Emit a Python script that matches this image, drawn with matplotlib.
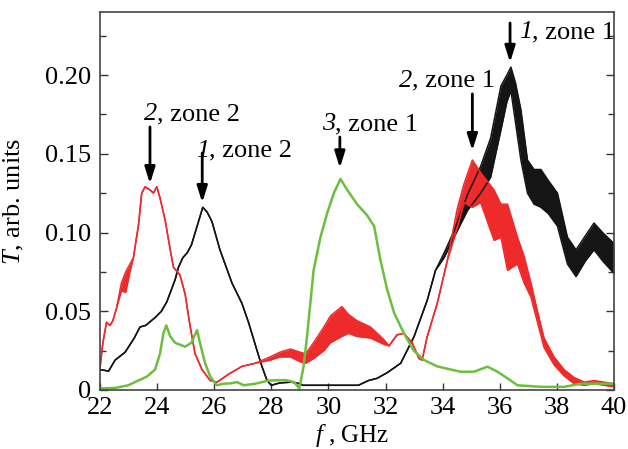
import numpy as np
import matplotlib
matplotlib.use('Agg')
import matplotlib.pyplot as plt
from matplotlib.ticker import MultipleLocator, FixedLocator, FixedFormatter

# Curve 1 (black): frequency, lower and upper edge of the rippled trace
black_f = [22.0, 22.3, 22.53, 22.88, 23.2, 23.4, 23.6, 23.93, 24.15, 24.34, 24.63, 24.75,
           24.9, 25.05, 25.2, 25.4, 25.6, 25.75, 25.92, 26.2, 26.62, 26.97, 27.2, 27.5,
           27.67, 27.85, 28.0, 28.3, 28.7, 29.0, 29.1, 31.05, 31.4, 31.7, 32.06, 32.53,
           33.0, 33.46, 33.75, 34.05, 34.4, 34.87, 35.33, 35.68, 36.04, 36.25, 36.39,
           36.55, 36.74, 36.97, 37.2, 37.44, 37.7, 38.02, 38.37, 38.67, 39.0, 39.3, 39.6, 40.0]
black_lo = [0.013, 0.012, 0.019, 0.024, 0.033, 0.040, 0.041, 0.046, 0.050, 0.056, 0.070, 0.078,
            0.084, 0.087, 0.092, 0.104, 0.116, 0.113, 0.107, 0.089, 0.068, 0.055, 0.043, 0.025,
            0.015, 0.006, 0.003, 0.0045, 0.005, 0.004, 0.003, 0.003, 0.006, 0.0074, 0.011, 0.017,
            0.034, 0.057, 0.076, 0.084, 0.097, 0.114, 0.125, 0.135, 0.165, 0.183, 0.190,
            0.170, 0.146, 0.125, 0.118, 0.116, 0.112, 0.104, 0.080, 0.072, 0.082, 0.089, 0.082, 0.074]
black_hi = [0.013, 0.012, 0.019, 0.024, 0.033, 0.040, 0.041, 0.046, 0.050, 0.056, 0.070, 0.078,
            0.084, 0.087, 0.092, 0.104, 0.116, 0.113, 0.107, 0.089, 0.068, 0.055, 0.043, 0.025,
            0.015, 0.006, 0.003, 0.0045, 0.005, 0.004, 0.003, 0.003, 0.006, 0.0074, 0.011, 0.017,
            0.034, 0.057, 0.076, 0.087, 0.101, 0.124, 0.142, 0.160, 0.193, 0.200, 0.205,
            0.195, 0.178, 0.146, 0.140, 0.140, 0.133, 0.125, 0.097, 0.089, 0.098, 0.106, 0.100, 0.093]

# Curve 2 (red)
red_f = [22.0, 22.1, 22.23, 22.35, 22.45, 22.58, 22.75, 22.9, 23.05, 23.17, 23.35, 23.46,
         23.58, 23.75, 23.87, 23.99, 24.1, 24.28, 24.46, 24.57, 24.8, 24.98, 25.16, 25.33,
         25.57, 25.86, 26.1, 26.5, 26.97, 27.44, 27.96, 28.3, 28.67, 29.0, 29.2, 29.48,
         29.84, 30.07, 30.47, 30.7, 31.0, 31.47, 31.94, 32.12, 32.4, 32.64, 32.93, 33.17,
         33.28, 33.46, 33.81, 34.16, 34.51, 34.75, 35.04, 35.33, 35.8, 36.04, 36.27, 36.62,
         36.85, 37.09, 37.32, 37.55, 37.9, 38.25, 38.6, 38.96, 39.3, 40.0]
red_lo = [0.014, 0.030, 0.043, 0.041, 0.044, 0.052, 0.063, 0.062, 0.075, 0.084, 0.105, 0.125,
          0.129, 0.127, 0.125, 0.129, 0.122, 0.108, 0.089, 0.078, 0.073, 0.061, 0.040, 0.023,
          0.013, 0.006, 0.005, 0.010, 0.015, 0.017, 0.019, 0.021, 0.021, 0.018, 0.017, 0.020,
          0.025, 0.030, 0.034, 0.036, 0.034, 0.033, 0.029, 0.028, 0.035, 0.036, 0.030, 0.020,
          0.019, 0.034, 0.055, 0.082, 0.103, 0.119, 0.116, 0.119, 0.095, 0.097, 0.076, 0.080,
          0.068, 0.059, 0.043, 0.027, 0.016, 0.009, 0.004, 0.003, 0.004, 0.002]
red_hi = [0.014, 0.030, 0.043, 0.041, 0.044, 0.052, 0.068, 0.075, 0.080, 0.084, 0.105, 0.125,
          0.129, 0.127, 0.125, 0.129, 0.122, 0.108, 0.089, 0.078, 0.073, 0.061, 0.040, 0.023,
          0.013, 0.006, 0.005, 0.010, 0.015, 0.017, 0.021, 0.024, 0.026, 0.024, 0.023, 0.030,
          0.040, 0.047, 0.053, 0.048, 0.044, 0.040, 0.032, 0.028, 0.035, 0.036, 0.030, 0.020,
          0.019, 0.034, 0.055, 0.082, 0.115, 0.131, 0.146, 0.138, 0.127, 0.118, 0.118, 0.097,
          0.085, 0.068, 0.050, 0.033, 0.021, 0.013, 0.008, 0.005, 0.006, 0.004]

# Curve 3 (green)
green_f = [22.0, 22.53, 22.99, 23.34, 23.64, 23.93, 24.1, 24.22, 24.32, 24.46, 24.63, 24.98,
           25.2, 25.4, 25.5, 25.68, 25.86, 26.09, 26.33, 26.56, 26.8, 27.03, 27.44, 27.9,
           28.5, 28.8, 28.98, 29.13, 29.25, 29.48, 29.72, 29.95, 30.19, 30.42, 30.66, 31.0,
           31.35, 31.6, 31.82, 32.06, 32.3, 32.64, 32.99, 33.35, 33.81, 34.28, 34.63, 35.1,
           35.57, 35.92, 36.27, 36.62, 37.44, 38.25, 38.84, 39.54, 40.0]
green_t = [0.001, 0.0013, 0.003, 0.006, 0.0085, 0.013, 0.023, 0.036, 0.041, 0.034, 0.030, 0.0275,
           0.030, 0.038, 0.030, 0.017, 0.0085, 0.003, 0.004, 0.0042, 0.005, 0.003, 0.004, 0.006,
           0.0063, 0.005, 0.001, 0.015, 0.034, 0.076, 0.097, 0.112, 0.125, 0.134, 0.127, 0.118,
           0.111, 0.104, 0.0825, 0.0635, 0.049, 0.036, 0.025, 0.019, 0.015, 0.013, 0.0116, 0.0116,
           0.0148, 0.0116, 0.0074, 0.003, 0.002, 0.002, 0.004, 0.004, 0.004]

# Annotations: curve number (italic), rest of label, arrow x, tail, tip, text left x, baseline y
ann_num = ['2', '1', '3', '2', '1']
ann_rest = [', zone 2', ', zone 2', ', zone 1', ', zone 1', ', zone 1']
ann_x = [23.75, 25.58, 30.4, 35.04, 36.36]
ann_tail = [0.167, 0.1505, 0.1606, 0.188, 0.233]
ann_tip = [0.131, 0.119, 0.141, 0.152, 0.208]
ann_text_x = [23.54, 25.37, 29.78, 32.46, 36.67]
ann_text_y = [0.1714, 0.148, 0.165, 0.1926, 0.2233]

x_ticks = [22, 24, 26, 28, 30, 32, 34, 36, 38, 40]
y_ticks = [0, 0.05, 0.10, 0.15, 0.20]
y_tick_labels = ['0', '0.05', '0.10', '0.15', '0.20']

plt.rcParams['font.family'] = 'Liberation Serif'
plt.rcParams['mathtext.fontset'] = 'custom'
plt.rcParams['mathtext.rm'] = 'Liberation Serif'
plt.rcParams['mathtext.it'] = 'Liberation Serif:italic'

fig = plt.figure(figsize=(6.28, 4.49), dpi=100)
ax = fig.add_axes([100 / 628, 1 - 390 / 449, 514 / 628, 378 / 449])

BLACK = '#151515'
RED = '#ee2a2a'
GREEN = '#6cbf3e'

# rippled traces: fill between the ripple edges, then outline them
for f, lo, hi, col in [(black_f, black_lo, black_hi, BLACK),
                       (red_f, red_lo, red_hi, RED)]:
    f = np.array(f)
    lo = np.array(lo)
    hi = np.array(hi)
    ax.fill_between(f, lo, hi, color=col, lw=0)
    ax.plot(f, lo, color=col, lw=1.1)
    ax.plot(f, hi, color=col, lw=1.1)

ax.plot(green_f, green_t, color=GREEN, lw=1.8)

for num, rest, xa, yt, yh, tx, ty in zip(ann_num, ann_rest, ann_x, ann_tail, ann_tip,
                                         ann_text_x, ann_text_y):
    ax.annotate('', xy=(xa, yh), xytext=(xa, yt),
                arrowprops=dict(arrowstyle='-|>,head_length=0.7,head_width=0.22',
                                color='black', lw=2.0, mutation_scale=14,
                                shrinkA=0, shrinkB=0))
    t = ax.text(tx, ty, num, fontsize=19, style='italic', ha='left', va='baseline')
    ax.annotate(rest, xy=(1, 0), xycoords=t, fontsize=19, ha='left', va='bottom')

ax.set_xlim(22, 40)
ax.set_ylim(0, 0.24)
ax.xaxis.set_major_locator(FixedLocator(x_ticks))
ax.yaxis.set_major_locator(FixedLocator(y_ticks))
ax.yaxis.set_major_formatter(FixedFormatter(y_tick_labels))
ax.yaxis.set_minor_locator(MultipleLocator(0.025))

ax.tick_params(axis='x', which='both', direction='in', top=False, length=5, width=1,
               labelsize=19, pad=5, color='#333333')
ax.tick_params(axis='y', which='major', direction='in', left=True, right=True, length=6,
               width=1, labelsize=19, pad=6.5, color='#333333')
ax.tick_params(axis='y', which='minor', direction='in', left=True, right=True, length=4,
               width=1, color='#333333')

for s in ax.spines.values():
    s.set_color('#444444')
    s.set_linewidth(1.2)

ax.set_xlabel(r'$f$ , GHz', fontsize=18)
ax.xaxis.label.set_va('baseline')
ax.xaxis.set_label_coords(0.49, -0.1376)
ax.set_ylabel(r'$T$, arb. units', fontsize=19)
ax.yaxis.set_label_coords(-0.144, 0.5)

fig.savefig('out.png', dpi=100, facecolor='white')
